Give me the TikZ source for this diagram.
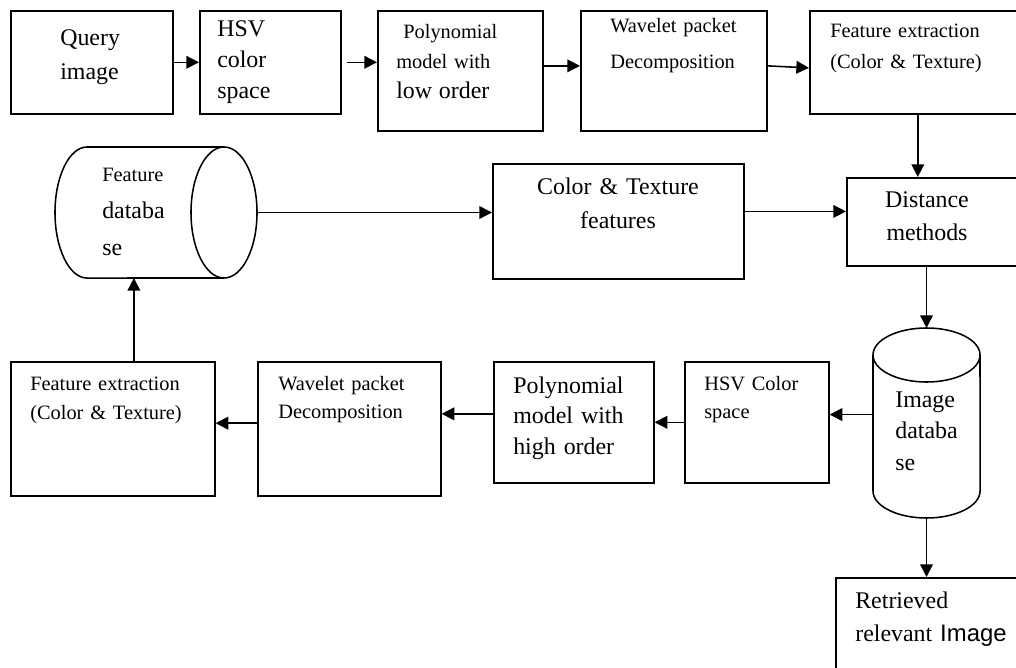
\documentclass[tikz,border=0pt]{standalone}
\usepackage{fontspec}
\setmainfont{Liberation Serif}
\newfontfamily\arialfont{Liberation Sans}
\usetikzlibrary{arrows.meta}
\tikzset{
  box/.style={draw,line width=1.1pt,anchor=north west,inner sep=0pt},
  slot/.style={inner sep=0pt,outer sep=0pt},
  outline/.style={line width=1.1pt},
  txt/.style={inner sep=0pt,anchor=base west,align=left,text width=5cm,font=\fontsize{14.5}{22}\selectfont},
  bigtxt/.style={txt,font=\fontsize{17}{23}\selectfont},
  arr/.style={-{Triangle[length=9pt,width=9pt]},line width=1.1pt}
}
\begin{document}
\begin{tikzpicture}[x=0.025cm,y=-0.025cm]
\useasboundingbox (0,0) rectangle (1016,668);
\clip (0,0) rectangle (1016,668);
% query side
\node[box,minimum width=4.05cm,minimum height=2.575cm] (qry) at (10,10) {};
\node[box,minimum width=3.525cm,minimum height=2.575cm] (hsv) at (199,10) {};
\node[box,minimum width=4.125cm,minimum height=3cm] (polylo) at (377,10) {};
\node[box,minimum width=4.65cm,minimum height=3cm] (wpd) at (580,10) {};
\node[box,minimum width=5.4cm,minimum height=2.575cm] (fex) at (809,10) {};
\node[box,minimum width=4.475cm,minimum height=2.2cm] (dist) at (846,177) {};
\node[box,minimum width=6.275cm,minimum height=2.875cm] (ctf) at (492,163) {};
% feature database, lying cylinder
\node[slot,minimum width=5.05cm,minimum height=3.275cm] (fdb) at (156,212.5) {};
\draw[outline] (224,147) -- (87,147)
  arc[start angle=90,end angle=270,x radius=0.8cm,y radius=1.6375cm] -- (224,278);
\draw[outline] (224,212.5) ellipse[x radius=0.825cm,y radius=1.6375cm];
% database side
\node[box,minimum width=5.1cm,minimum height=3.35cm] (fex2) at (10,361) {};
\node[box,minimum width=4.575cm,minimum height=3.35cm] (wpd2) at (257,361) {};
\node[box,minimum width=4cm,minimum height=3.025cm] (poly2) at (493,361) {};
\node[box,minimum width=3.6cm,minimum height=3.025cm] (hsv2) at (684,361) {};
% image database, standing cylinder
\node[slot,minimum width=2.675cm,minimum height=4.75cm] (idb) at (926.5,423) {};
\draw[outline] (926.5,355) ellipse[x radius=1.3375cm,y radius=0.675cm];
\draw[outline] (873,355) -- (873,491)
  arc[start angle=180,end angle=360,x radius=1.3375cm,y radius=0.675cm] -- (980,355);
\node[box,minimum width=4.75cm,minimum height=2.5cm] (ret) at (835,577) {};

\node[bigtxt,font=\fontsize{17}{23.5}\selectfont] (qryt) at (60,46) {Query\\image};
\begin{scope}
\clip (hsv.north west) rectangle (hsv.south east);
\node[bigtxt,font=\fontsize{17}{21.7}\selectfont] (hsvt) at (217,37) {HSV\\color\\space};
\end{scope}
\node[txt,font=\fontsize{14.5}{21.3}\selectfont] (polylot) at (396,39) {\hspace*{5pt}Polynomial\\model with\\{\fontsize{17}{21.3}\selectfont low order}};
\node[txt,font=\fontsize{14.5}{25}\selectfont] (wpdt) at (610,33) {Wavelet packet\\Decomposition};
\node[txt] (fext) at (830,38) {Feature extraction\\(Color \& Texture)};
\node[bigtxt,anchor=base,align=center,text width=3.5cm,font=\fontsize{17}{22.8}\selectfont] (distt) at (927,208) {Distance\\methods};
\node[bigtxt,anchor=base,align=center,text width=5cm,font=\fontsize{17}{23.5}\selectfont] (ctft) at (618,195) {Color \& Texture\\features};
\node[bigtxt,font=\fontsize{17}{26}\selectfont] (fdbt) at (102,182) {{\fontsize{14.5}{26}\selectfont Feature}\\databa\\se};
\node[txt,font=\fontsize{14.5}{21.3}\selectfont] (fex2t) at (30,390) {Feature extraction\\(Color \& Texture)};
\node[txt,font=\fontsize{14.5}{20}\selectfont] (wpd2t) at (278,390) {Wavelet packet\\Decomposition};
\node[bigtxt,font=\fontsize{17}{22}\selectfont] (poly2t) at (513,393) {Polynomial\\model with\\high order};
\node[txt,font=\fontsize{14.5}{20}\selectfont] (hsv2t) at (704,390) {HSV Color\\space};
\node[bigtxt,font=\fontsize{17}{22.4}\selectfont] (idbt) at (895,407) {Image\\databa\\se};
\node[bigtxt,font=\fontsize{17}{24}\selectfont] (rett) at (855,608) {Retrieved\\relevant {\arialfont Image}};

% connectors
\draw[arr] (qry.east) -- (hsv.west);
\draw[arr] ([xshift=3.5pt]hsv.east) -- (hsv.east -| polylo.west);
\draw[arr] ([yshift=3.5pt]polylo.east) -- ([yshift=3.5pt]wpd.west);
\draw[arr] ([yshift=3.5pt]wpd.east) -- ([yshift=-4pt]fex.west);
\draw[arr] (fex.south) -- (fex.south |- dist.north);
\draw[arr] (fdb.east) -- (fdb.east -| ctf.west);
\draw[arr] ([yshift=7pt]ctf.east) -- ([yshift=7pt]ctf.east -| dist.west);
\draw[arr] (idb.north |- dist.south) -- (idb.north);
\draw[arr] ([yshift=6pt]idb.west) -- ([yshift=6pt]idb.west -| hsv2.east);
\draw[arr] (hsv2.west) -- (poly2.east);
\draw[arr] ([yshift=6pt]poly2.west) -- ([yshift=6pt]poly2.west -| wpd2.east);
\draw[arr] ([yshift=4pt]wpd2.west) -- ([yshift=4pt]wpd2.west -| fex2.east);
\draw[arr] ([xshift=15pt]fex2.north) -- ([xshift=15pt]fex2.north |- fdb.south);
\draw[arr] (idb.south) -- (idb.south |- ret.north);
\end{tikzpicture}
\end{document}
